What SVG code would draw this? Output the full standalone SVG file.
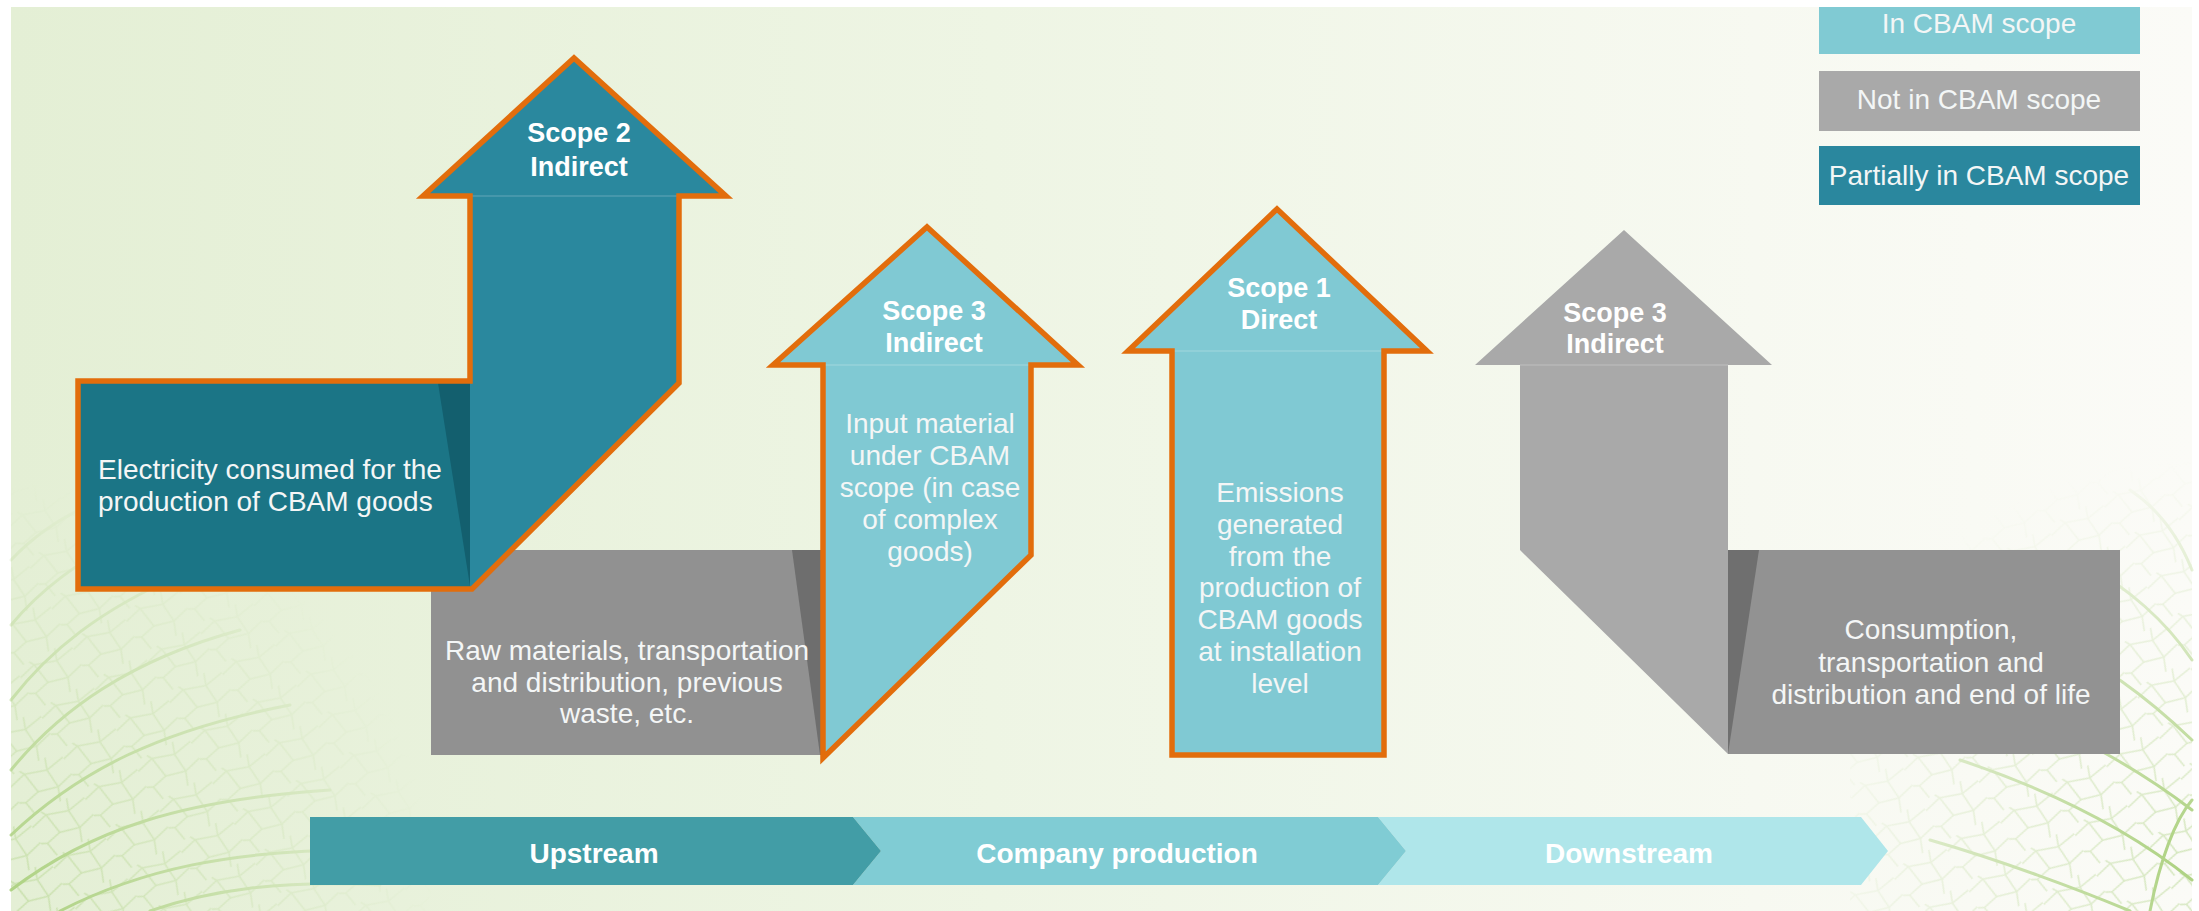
<svg xmlns="http://www.w3.org/2000/svg" width="2199" height="911" viewBox="0 0 2199 911">
  <style>
    .lbl { font-family: "Liberation Sans", Arial, sans-serif; font-weight: bold; font-size: 27px; fill: #ffffff; text-anchor: middle; }
    .body { font-family: "Liberation Sans", Arial, sans-serif; font-size: 28px; fill: #f4f6f6; }
    .mid { text-anchor: middle; }
    .bar { font-family: "Liberation Sans", Arial, sans-serif; font-weight: bold; font-size: 28px; fill: #ffffff; text-anchor: middle; }
    .leg { font-family: "Liberation Sans", Arial, sans-serif; font-size: 28px; fill: #f3f6f6; text-anchor: middle; }
    .edge { fill: none; stroke: #e26d0c; stroke-width: 5.5; stroke-linejoin: miter; stroke-miterlimit: 4; }
    .seam { stroke: #ffffff; stroke-opacity: 0.18; stroke-width: 1.5; }
    .vein { fill: none; stroke: #a3cc72; stroke-linecap: round; }
  </style>
  <defs>
    <linearGradient id="bg" x1="0" y1="0" x2="1" y2="0">
      <stop offset="0" stop-color="#e4efd5"/>
      <stop offset="0.45" stop-color="#eef5e4"/>
      <stop offset="0.8" stop-color="#f7f9f1"/>
      <stop offset="1" stop-color="#fbfbf7"/>
    </linearGradient>
    <pattern id="cells" width="60" height="46" patternUnits="userSpaceOnUse" patternTransform="rotate(-28)">
      <path d="M0,10 L18,5 L40,12 L60,8 M18,5 L22,27 L6,31 L0,28 M22,27 L42,32 L40,12 M42,32 L60,27 M6,31 L9,46 M42,32 L37,46 M40,12 L44,0 M18,5 L15,0" fill="none" stroke="#a6ce78" stroke-width="1.6"/>
    </pattern>
    <radialGradient id="fadeL" gradientUnits="userSpaceOnUse" cx="11" cy="911" r="430">
      <stop offset="0" stop-color="#fff" stop-opacity="0.85"/>
      <stop offset="0.6" stop-color="#fff" stop-opacity="0.35"/>
      <stop offset="1" stop-color="#fff" stop-opacity="0"/>
    </radialGradient>
    <radialGradient id="fadeR" gradientUnits="userSpaceOnUse" cx="2192" cy="860" r="400">
      <stop offset="0" stop-color="#fff" stop-opacity="0.9"/>
      <stop offset="0.6" stop-color="#fff" stop-opacity="0.4"/>
      <stop offset="1" stop-color="#fff" stop-opacity="0"/>
    </radialGradient>
    <mask id="maskL"><rect x="0" y="0" width="2199" height="911" fill="url(#fadeL)"/></mask>
    <mask id="maskR"><rect x="0" y="0" width="2199" height="911" fill="url(#fadeR)"/></mask>
  </defs>

  <!-- page -->
  <rect x="0" y="0" width="2199" height="911" fill="#ffffff"/>
  <rect id="background" x="11" y="7" width="2181" height="904" fill="url(#bg)"/>

  <!-- leaf-vein texture, lower left -->
  <g id="veins-left" mask="url(#maskL)">
    <rect x="11" y="420" width="420" height="491" fill="url(#cells)" opacity="0.5"/>
    <path class="vein" stroke-width="3" d="M11,890 C90,830 180,800 330,790 M11,835 C80,770 160,730 290,705 M11,770 C60,710 130,660 240,630 M11,700 C50,650 100,610 180,575 M11,625 C40,590 80,560 130,535 M60,911 C140,870 230,850 360,850 M150,911 C210,890 280,880 380,885 M11,560 C30,540 55,520 90,505"/>
  </g>

  <!-- leaf-vein texture, right edge -->
  <g id="veins-right" mask="url(#maskR)">
    <rect x="1850" y="400" width="342" height="511" fill="url(#cells)" opacity="0.5"/>
    <path class="vein" stroke-width="3" d="M1960,760 C2050,790 2130,830 2192,880 M1990,700 C2070,730 2140,770 2192,810 M2030,630 C2100,660 2150,700 2192,740 M2080,560 C2130,590 2165,620 2192,660 M2130,490 C2160,510 2180,540 2192,570 M1930,840 C2000,860 2080,890 2130,911 M2150,911 C2160,860 2175,820 2192,800"/>
  </g>

  <!-- upstream materials (not in scope) -->
  <g id="raw-materials">
    <rect x="431" y="550" width="392" height="205" fill="#919191"/>
    <polygon points="792,550 823,550 823,755 820,755" fill="#6e6e6e"/>
    <text class="body mid" x="627" y="660">Raw materials, transportation</text>
    <text class="body mid" x="627" y="692">and distribution, previous</text>
    <text class="body mid" x="627" y="723">waste, etc.</text>
  </g>

  <!-- scope 2: electricity -->
  <g id="scope2">
    <polygon points="78,381 470,381 470,196 423,196 574,58 726,196 679,196 679,383 472,589 78,589" fill="#2a889e"/>
    <rect x="78" y="381" width="392" height="208" fill="#1b7586"/>
    <polygon points="438,383 470,383 470,586" fill="#135f6e"/>
    <line class="seam" x1="470" y1="196" x2="679" y2="196"/>
    <polygon class="edge" points="78,381 470,381 470,196 423,196 574,58 726,196 679,196 679,383 472,589 78,589"/>
    <text class="lbl" x="579" y="142">Scope 2</text>
    <text class="lbl" x="579" y="176">Indirect</text>
    <text class="body" x="98" y="479">Electricity consumed for the</text>
    <text class="body" x="98" y="511">production of CBAM goods</text>
  </g>

  <!-- scope 3: input material -->
  <g id="scope3-input">
    <polygon points="823,365 773,365 927,227 1078,365 1031,365 1031,555 823,758" fill="#80c9d3"/>
    <line class="seam" x1="823" y1="365" x2="1031" y2="365"/>
    <polygon class="edge" points="823,365 773,365 927,227 1078,365 1031,365 1031,555 823,758"/>
    <text class="lbl" x="934" y="320">Scope 3</text>
    <text class="lbl" x="934" y="352">Indirect</text>
    <text class="body mid" x="930" y="433">Input material</text>
    <text class="body mid" x="930" y="465">under CBAM</text>
    <text class="body mid" x="930" y="497">scope (in case</text>
    <text class="body mid" x="930" y="529">of complex</text>
    <text class="body mid" x="930" y="561">goods)</text>
  </g>

  <!-- scope 1: direct emissions -->
  <g id="scope1">
    <polygon points="1172,351 1128,351 1277,209 1427,351 1384,351 1384,755 1172,755" fill="#80c9d3"/>
    <line class="seam" x1="1172" y1="351" x2="1384" y2="351"/>
    <polygon class="edge" points="1172,351 1128,351 1277,209 1427,351 1384,351 1384,755 1172,755"/>
    <text class="lbl" x="1279" y="297">Scope 1</text>
    <text class="lbl" x="1279" y="329">Direct</text>
    <text class="body mid" x="1280" y="502">Emissions</text>
    <text class="body mid" x="1280" y="534">generated</text>
    <text class="body mid" x="1280" y="566">from the</text>
    <text class="body mid" x="1280" y="597">production of</text>
    <text class="body mid" x="1280" y="629">CBAM goods</text>
    <text class="body mid" x="1280" y="661">at installation</text>
    <text class="body mid" x="1280" y="693">level</text>
  </g>

  <!-- scope 3: downstream (not in scope) -->
  <g id="scope3-downstream">
    <polygon points="1520,365 1475,365 1624,230 1772,365 1728,365 1728,754 1520,550" fill="#a9a9a9"/>
    <line class="seam" x1="1520" y1="365" x2="1728" y2="365"/>
    <rect x="1728" y="550" width="392" height="204" fill="#929292"/>
    <polygon points="1728,550 1759,550 1728,754" fill="#6f6f6f"/>
    <text class="lbl" x="1615" y="322">Scope 3</text>
    <text class="lbl" x="1615" y="353">Indirect</text>
    <text class="body mid" x="1931" y="639">Consumption,</text>
    <text class="body mid" x="1931" y="672">transportation and</text>
    <text class="body mid" x="1931" y="704">distribution and end of life</text>
  </g>

  <!-- value chain bar -->
  <g id="value-chain">
    <polygon id="stage-downstream" points="1378,817 1861,817 1888,851 1861,885 1378,885 1406,851" fill="#afe6ea"/>
    <polygon id="stage-company" points="853,817 1378,817 1406,851 1378,885 853,885 881,851" fill="#80ccd4"/>
    <polygon id="stage-upstream" points="310,817 853,817 881,851 853,885 310,885" fill="#429da6"/>
    <text class="bar" x="594" y="863">Upstream</text>
    <text class="bar" x="1117" y="863">Company production</text>
    <text class="bar" x="1629" y="863">Downstream</text>
  </g>

  <!-- legend -->
  <g id="legend">
    <rect x="1819" y="7" width="321" height="47" fill="#80cad3"/>
    <text class="leg" x="1979" y="33">In CBAM scope</text>
    <rect x="1819" y="71" width="321" height="60" fill="#a9a9a9"/>
    <text class="leg" x="1979" y="109">Not in CBAM scope</text>
    <rect x="1819" y="146" width="321" height="59" fill="#2a879e"/>
    <text class="leg" x="1979" y="185">Partially in CBAM scope</text>
  </g>
</svg>
